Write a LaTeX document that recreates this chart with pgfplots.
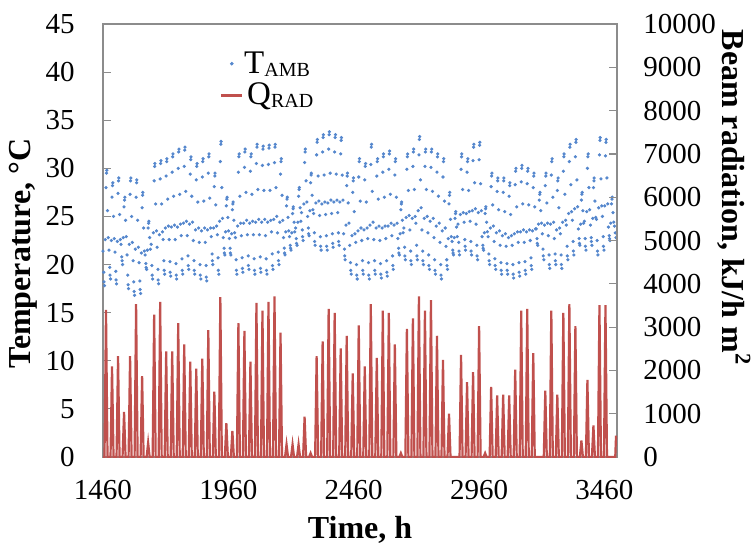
\documentclass[border=0pt]{standalone}
\usepackage{fontspec}
\setmainfont{Liberation Serif}
\usepackage{pgfplots}
\pgfplotsset{compat=1.18}

\definecolor{tblue}{RGB}{85,135,205}
\definecolor{qred}{RGB}{192,80,77}
\definecolor{framegray}{RGB}{140,140,140}

\pgfplotsset{
  base/.style={
    width=257pt, height=216.5pt, scale only axis,
    xmin=1460, xmax=3510,
    axis line style={framegray, line width=0.75pt},
    tick style={framegray, line width=0.6pt},
    major tick length=4pt,
    tick align=inside,
    tick label style={font=\fontsize{14.5}{16}\selectfont, inner sep=0pt},
    /pgf/number format/assume math mode=true,
    /pgf/number format/1000 sep={},
    scaled y ticks=false,
    label style={font=\fontsize{16}{18}\selectfont\bfseries, inner sep=0pt},
  },
  tdots/.style={tblue, only marks, mark=*, mark size=0.6pt, mark options={draw=none, fill=tblue}},
}

\begin{document}
\begin{tikzpicture}
% page frame, same margins as the reference
\path (-51.5pt,-45.5pt) rectangle (324pt,228.5pt);
% temperature, left axis
\begin{axis}[base,
  ymin=0, ymax=45, ytick={0,5,...,45},
  xtick={1460,1960,2460,2960,3460},
  xtick style={draw=none},
  ytick pos=left,
  xticklabel style={yshift=-11.5pt},
  yticklabel style={xshift=-14pt},
  xlabel={Time, h},
  xlabel style={at={(axis description cs:0.5,0)}, anchor=center, yshift=-36.5pt},
  ylabel={Temperature, °C},
  ylabel style={at={(axis description cs:-0.155,0.47)}, anchor=center},
]
\addplot[tdots] coordinates {
(1460,21.4)(1463,19.2)(1466,17.8)(1469,22.6)(1472,28.0)(1475,29.8)(1478,25.6)(1481,22.8)
(1484,21.5)(1487,19.7)(1490,18.5)(1493,22.5)(1496,27.0)(1499,28.5)(1502,25.0)(1505,22.7)
(1508,21.3)(1511,19.3)(1514,18.0)(1517,22.4)(1520,27.4)(1523,29.0)(1526,25.2)(1529,22.6)
(1532,22.1)(1535,20.8)(1538,20.0)(1541,22.8)(1544,26.0)(1547,27.0)(1550,24.6)(1553,22.9)
(1556,21.0)(1559,18.9)(1562,17.5)(1565,22.1)(1568,27.3)(1571,29.0)(1574,25.0)(1577,22.3)
(1580,20.4)(1583,18.2)(1586,16.8)(1589,21.6)(1592,27.0)(1595,28.8)(1598,24.6)(1601,21.8)
(1604,20.2)(1607,18.3)(1610,17.0)(1613,21.2)(1616,25.9)(1619,27.5)(1622,23.8)(1625,21.4)
(1628,21.0)(1631,20.1)(1634,19.5)(1637,21.5)(1640,23.8)(1643,24.5)(1646,22.8)(1649,21.6)
(1652,22.1)(1655,19.9)(1658,18.5)(1661,23.3)(1664,28.7)(1667,30.5)(1670,26.3)(1673,23.5)
(1676,21.8)(1679,19.5)(1682,18.0)(1685,23.1)(1688,28.9)(1691,30.8)(1694,26.3)(1697,23.4)
(1700,22.6)(1703,20.4)(1706,19.0)(1709,23.8)(1712,29.2)(1715,31.0)(1718,26.8)(1721,24.0)
(1724,22.6)(1727,20.3)(1730,18.8)(1733,23.9)(1736,29.6)(1739,31.5)(1742,27.1)(1745,24.1)
(1748,22.6)(1751,20.1)(1754,18.5)(1757,23.9)(1760,30.0)(1763,32.0)(1766,27.3)(1769,24.2)
(1772,23.0)(1775,20.6)(1778,19.0)(1781,24.3)(1784,30.2)(1787,32.2)(1790,27.6)(1793,24.5)
(1796,23.0)(1799,20.9)(1802,19.5)(1805,24.2)(1808,29.4)(1811,31.2)(1814,27.1)(1817,24.4)
(1820,22.5)(1823,20.4)(1826,19.0)(1829,23.6)(1832,28.8)(1835,30.5)(1838,26.5)(1841,23.8)
(1844,22.3)(1847,20.0)(1850,18.5)(1853,23.5)(1856,29.1)(1859,31.0)(1862,26.6)(1865,23.8)
(1868,22.3)(1871,19.9)(1874,18.3)(1877,23.6)(1880,29.5)(1883,31.5)(1886,26.9)(1889,23.8)
(1892,22.9)(1895,21.1)(1898,20.0)(1901,23.8)(1904,28.1)(1907,29.5)(1910,26.2)(1913,24.0)
(1916,23.1)(1919,20.7)(1922,19.0)(1925,24.5)(1928,30.7)(1931,32.8)(1934,28.0)(1937,24.8)
(1940,22.8)(1943,21.7)(1946,21.0)(1949,23.4)(1952,26.1)(1955,27.0)(1958,24.9)(1961,23.5)
(1964,22.7)(1967,21.7)(1970,21.0)(1973,23.2)(1976,25.7)(1979,26.5)(1982,24.6)(1985,23.3)
(1988,22.8)(1991,20.5)(1994,19.0)(1997,24.0)(2000,29.6)(2003,31.5)(2006,27.1)(2009,24.3)
(2012,23.0)(2015,20.7)(2018,19.2)(2021,24.3)(2024,30.1)(2027,32.0)(2030,27.5)(2033,24.6)
(2036,23.1)(2039,20.9)(2042,19.5)(2045,24.3)(2048,29.7)(2051,31.5)(2054,27.3)(2057,24.5)
(2060,23.1)(2063,20.6)(2066,19.0)(2069,24.4)(2072,30.5)(2075,32.5)(2078,27.8)(2081,24.7)
(2084,23.1)(2087,20.8)(2090,19.2)(2093,24.4)(2096,30.3)(2099,32.3)(2102,27.7)(2105,24.7)
(2108,23.0)(2111,20.6)(2114,19.0)(2117,24.4)(2120,30.4)(2123,32.4)(2126,27.7)(2129,24.6)
(2132,23.4)(2135,21.1)(2138,19.5)(2141,24.7)(2144,30.6)(2147,32.5)(2150,28.0)(2153,25.0)
(2156,23.3)(2159,21.3)(2162,20.0)(2165,24.4)(2168,29.4)(2171,31.0)(2174,27.2)(2177,24.6)
(2180,22.8)(2183,21.7)(2186,21.0)(2189,23.4)(2192,26.1)(2195,27.0)(2198,24.9)(2201,23.5)
(2204,22.9)(2207,22.0)(2210,21.5)(2213,23.3)(2216,25.3)(2219,26.0)(2222,24.4)(2225,23.4)
(2228,23.8)(2231,22.7)(2234,22.0)(2237,24.4)(2240,27.1)(2243,28.0)(2246,25.9)(2249,24.5)
(2252,25.4)(2255,23.6)(2258,22.5)(2261,26.3)(2264,30.6)(2267,32.0)(2270,28.7)(2273,26.5)
(2276,25.0)(2279,23.8)(2282,23.0)(2285,25.6)(2288,28.5)(2291,29.5)(2294,27.2)(2297,25.7)
(2300,25.3)(2303,23.3)(2306,22.0)(2309,26.4)(2312,31.4)(2315,33.0)(2318,29.2)(2321,26.6)
(2324,25.1)(2327,22.9)(2330,21.5)(2333,26.3)(2336,31.7)(2339,33.5)(2342,29.3)(2345,26.5)
(2348,25.2)(2351,23.0)(2354,21.5)(2357,26.4)(2360,32.0)(2363,33.8)(2366,29.5)(2369,26.7)
(2372,25.3)(2375,23.2)(2378,21.8)(2381,26.5)(2384,31.7)(2387,33.5)(2390,29.4)(2393,26.7)
(2396,25.4)(2399,23.3)(2402,22.0)(2405,26.5)(2408,31.5)(2411,33.2)(2414,29.3)(2417,26.7)
(2420,23.2)(2423,21.6)(2426,20.5)(2429,24.1)(2432,28.2)(2435,29.5)(2438,26.4)(2441,24.3)
(2444,22.0)(2447,20.2)(2450,19.0)(2453,23.0)(2456,27.5)(2459,29.0)(2462,25.5)(2465,23.2)
(2468,22.3)(2471,20.0)(2474,18.5)(2477,23.5)(2480,29.1)(2483,31.0)(2486,26.6)(2489,23.8)
(2492,22.5)(2495,20.4)(2498,19.0)(2501,23.6)(2504,28.8)(2507,30.5)(2510,26.5)(2513,23.8)
(2516,22.7)(2519,20.2)(2522,18.5)(2525,24.1)(2528,30.4)(2531,32.5)(2534,27.6)(2537,24.4)
(2540,22.6)(2543,20.4)(2546,19.0)(2549,23.8)(2552,29.2)(2555,31.0)(2558,26.8)(2561,24.0)
(2564,22.5)(2567,20.1)(2570,18.6)(2573,23.8)(2576,29.6)(2579,31.5)(2582,27.0)(2585,24.0)
(2588,22.7)(2591,20.4)(2594,18.8)(2597,24.0)(2600,29.9)(2603,31.8)(2606,27.3)(2609,24.3)
(2612,23.0)(2615,20.9)(2618,19.5)(2621,24.1)(2624,29.3)(2627,31.0)(2630,27.0)(2633,24.3)
(2636,22.7)(2639,21.7)(2642,21.0)(2645,23.2)(2648,25.7)(2651,26.5)(2654,24.6)(2657,23.3)
(2660,23.8)(2663,21.8)(2666,20.5)(2669,24.9)(2672,29.9)(2675,31.5)(2678,27.7)(2681,25.1)
(2684,23.6)(2687,21.4)(2690,20.0)(2693,24.8)(2696,30.2)(2699,32.0)(2702,27.8)(2705,25.0)
(2708,24.3)(2711,22.0)(2714,20.5)(2717,25.6)(2720,31.4)(2723,33.3)(2726,28.8)(2729,25.9)
(2732,23.6)(2735,21.4)(2738,20.0)(2741,24.8)(2744,30.2)(2747,32.0)(2750,27.8)(2753,25.0)
(2756,23.3)(2759,21.0)(2762,19.5)(2765,24.5)(2768,30.1)(2771,32.0)(2774,27.6)(2777,24.8)
(2780,22.8)(2783,20.5)(2786,19.0)(2789,24.0)(2792,29.6)(2795,31.5)(2798,27.1)(2801,24.3)
(2804,22.3)(2807,20.0)(2810,18.5)(2813,23.5)(2816,29.1)(2819,31.0)(2822,26.6)(2825,23.8)
(2828,21.9)(2831,20.5)(2834,19.5)(2837,22.7)(2840,26.3)(2843,27.5)(2846,24.7)(2849,22.9)
(2852,22.4)(2855,21.5)(2858,21.0)(2861,22.8)(2864,24.8)(2867,25.5)(2870,23.9)(2873,22.9)
(2876,24.2)(2879,22.3)(2882,21.0)(2885,25.2)(2888,29.9)(2891,31.5)(2894,27.8)(2897,25.4)
(2900,24.4)(2903,22.6)(2906,21.5)(2909,25.3)(2912,29.6)(2915,31.0)(2918,27.7)(2921,25.5)
(2924,24.5)(2927,22.4)(2930,21.0)(2933,25.6)(2936,30.8)(2939,32.5)(2942,28.5)(2945,25.8)
(2948,24.2)(2951,22.0)(2954,20.5)(2957,25.4)(2960,30.9)(2963,32.7)(2966,28.4)(2969,25.6)
(2972,22.9)(2975,22.0)(2978,21.5)(2981,23.3)(2984,25.3)(2987,26.0)(2990,24.4)(2993,23.4)
(2996,22.9)(2999,21.1)(3002,20.0)(3005,23.8)(3008,28.1)(3011,29.5)(3014,26.2)(3017,24.0)
(3020,22.4)(3023,20.6)(3026,19.5)(3029,23.3)(3032,27.6)(3035,29.0)(3038,25.7)(3041,23.5)
(3044,22.0)(3047,20.2)(3050,19.0)(3053,23.0)(3056,27.5)(3059,29.0)(3062,25.5)(3065,23.2)
(3068,21.9)(3071,20.1)(3074,19.0)(3077,22.8)(3080,27.1)(3083,28.5)(3086,25.2)(3089,23.0)
(3092,22.0)(3095,20.0)(3098,18.6)(3101,23.2)(3104,28.3)(3107,30.0)(3110,26.0)(3113,23.4)
(3116,22.3)(3119,20.2)(3122,18.8)(3125,23.4)(3128,28.6)(3131,30.3)(3134,26.3)(3137,23.6)
(3140,22.3)(3143,20.3)(3146,19.0)(3149,23.4)(3152,28.4)(3155,30.0)(3158,26.2)(3161,23.6)
(3164,22.5)(3167,20.7)(3170,19.5)(3173,23.5)(3176,28.0)(3179,29.5)(3182,26.0)(3185,23.7)
(3188,23.7)(3191,22.7)(3194,22.0)(3197,24.2)(3200,26.7)(3203,27.5)(3206,25.6)(3209,24.3)
(3212,23.2)(3215,21.6)(3218,20.5)(3221,24.1)(3224,28.2)(3227,29.5)(3230,26.4)(3233,24.3)
(3236,23.0)(3239,21.0)(3242,19.6)(3245,24.2)(3248,29.3)(3251,31.0)(3254,27.0)(3257,24.4)
(3260,22.7)(3263,21.1)(3266,20.0)(3269,23.6)(3272,27.7)(3275,29.0)(3278,25.9)(3281,23.8)
(3284,23.2)(3287,21.0)(3290,19.6)(3293,24.4)(3296,29.7)(3299,31.5)(3302,27.3)(3305,24.6)
(3308,24.1)(3311,21.9)(3314,20.5)(3317,25.3)(3320,30.7)(3323,32.5)(3326,28.3)(3329,25.5)
(3332,24.6)(3335,22.4)(3338,21.0)(3341,25.8)(3344,31.2)(3347,33.0)(3350,28.8)(3353,26.0)
(3356,23.7)(3359,22.7)(3362,22.0)(3365,24.2)(3368,26.7)(3371,27.5)(3374,25.6)(3377,24.3)
(3380,24.5)(3383,22.7)(3386,21.5)(3389,25.5)(3392,30.0)(3395,31.5)(3398,28.0)(3401,25.7)
(3404,24.1)(3407,22.8)(3410,22.0)(3413,24.8)(3416,28.0)(3419,29.0)(3422,26.6)(3425,24.9)
(3428,24.7)(3431,22.5)(3434,21.0)(3437,25.9)(3440,31.4)(3443,33.2)(3446,28.9)(3449,26.1)
(3452,25.0)(3455,22.9)(3458,21.5)(3461,26.1)(3464,31.3)(3467,33.0)(3470,29.0)(3473,26.3)
(3476,23.9)(3479,23.0)(3482,22.5)(3485,24.3)(3488,26.3)(3491,27.0)(3494,25.4)(3497,24.4)
(3500,24.0)(3503,23.3)(3506,22.8)
};
% extra readings near each day's minimum and maximum
\addplot[tdots] coordinates {
(1464,18.2)(1474,29.5)(1488,18.9)(1498,28.2)(1512,18.4)(1522,28.7)(1536,20.4)(1546,26.7)
(1560,17.9)(1570,28.7)(1584,17.2)(1594,28.5)(1608,17.4)(1618,27.2)(1632,19.7)(1642,24.3)
(1656,18.9)(1666,30.2)(1680,18.4)(1690,30.5)(1704,19.4)(1714,30.7)(1728,19.2)(1738,31.2)
(1752,18.9)(1762,31.7)(1776,19.4)(1786,31.9)(1800,19.9)(1810,30.9)(1824,19.4)(1834,30.2)
(1848,18.9)(1858,30.7)(1872,18.7)(1882,31.2)(1896,20.4)(1906,29.2)(1920,19.4)(1930,32.5)
(1944,21.2)(1954,26.8)(1968,21.2)(1978,26.3)(1992,19.4)(2002,31.2)(2016,19.6)(2026,31.7)
(2040,19.9)(2050,31.2)(2064,19.4)(2074,32.2)(2088,19.6)(2098,32.0)(2112,19.4)(2122,32.1)
(2136,19.9)(2146,32.2)(2160,20.4)(2170,30.7)(2184,21.2)(2194,26.8)(2208,21.7)(2218,25.8)
(2232,22.2)(2242,27.8)(2256,22.9)(2266,31.7)(2280,23.2)(2290,29.3)(2304,22.4)(2314,32.7)
(2328,21.9)(2338,33.2)(2352,21.9)(2362,33.5)(2376,22.2)(2386,33.2)(2400,22.4)(2410,32.9)
(2424,20.9)(2434,29.2)(2448,19.4)(2458,28.7)(2472,18.9)(2482,30.7)(2496,19.4)(2506,30.2)
(2520,18.9)(2530,32.2)(2544,19.4)(2554,30.7)(2568,19.0)(2578,31.2)(2592,19.2)(2602,31.5)
(2616,19.9)(2626,30.7)(2640,21.2)(2650,26.3)(2664,20.9)(2674,31.2)(2688,20.4)(2698,31.7)
(2712,20.9)(2722,33.0)(2736,20.4)(2746,31.7)(2760,19.9)(2770,31.7)(2784,19.4)(2794,31.2)
(2808,18.9)(2818,30.7)(2832,19.9)(2842,27.2)(2856,21.2)(2866,25.3)(2880,21.4)(2890,31.2)
(2904,21.9)(2914,30.7)(2928,21.4)(2938,32.2)(2952,20.9)(2962,32.4)(2976,21.7)(2986,25.8)
(3000,20.4)(3010,29.2)(3024,19.9)(3034,28.7)(3048,19.4)(3058,28.7)(3072,19.4)(3082,28.2)
(3096,19.0)(3106,29.7)(3120,19.2)(3130,30.0)(3144,19.4)(3154,29.7)(3168,19.9)(3178,29.2)
(3192,22.2)(3202,27.3)(3216,20.9)(3226,29.2)(3240,20.0)(3250,30.7)(3264,20.4)(3274,28.7)
(3288,20.0)(3298,31.2)(3312,20.9)(3322,32.2)(3336,21.4)(3346,32.7)(3360,22.2)(3370,27.3)
(3384,21.9)(3394,31.2)(3408,22.4)(3418,28.7)(3432,21.4)(3442,32.9)(3456,21.9)(3466,32.7)
(3480,22.7)(3490,26.8)
};
\end{axis}

% beam radiation, right axis
\begin{axis}[base,
  axis x line=none, axis y line*=right,
  ymin=0, ymax=10000, ytick={0,1000,...,10000},
  yticklabel style={xshift=13pt},
  ylabel={Beam radiation, kJ/h m\textsuperscript{2}},
  ylabel style={rotate=180, at={(axis description cs:1.228,0.599)}, anchor=center},
  legend style={draw=none, fill=none, at={(axis description cs:0,1)}, anchor=north west,
    xshift=58pt, yshift=-13pt, inner sep=0pt, row sep=2.5pt,
    nodes={inner sep=0.5pt}, font=\fontsize{16.5}{18}\selectfont},
  legend cell align=left,
]
\addlegendimage{legend image code/.code={\fill[tblue] (5.5pt,0pt) circle (0.7pt);}}
\addlegendentry{T\raisebox{-1.5pt}{\fontsize{10}{11}\selectfont AMB}}
\addplot[qred, line width=1.1pt, legend image code/.code={\draw[qred, line width=1.4pt] (0pt,0pt) -- (10.5pt,0pt);}] coordinates {
(1460,0)
(1466,0)(1472,3400)(1478,0) (1490,0)(1496,2090)(1502,0) (1514,0)(1520,2330)(1526,0)
(1538,0)(1544,1040)(1550,0) (1562,0)(1568,2330)(1574,0) (1586,0)(1592,3530)(1598,0)
(1610,0)(1616,1870)(1622,0) (1634,0)(1640,330)(1646,0) (1658,0)(1664,3290)(1670,0)
(1682,0)(1688,3580)(1694,0) (1706,0)(1712,2440)(1718,0) (1730,0)(1736,2440)(1742,0)
(1754,0)(1760,3090)(1766,0) (1778,0)(1784,2600)(1790,0) (1802,0)(1808,2200)(1814,0)
(1826,0)(1832,2040)(1838,0) (1850,0)(1856,2270)(1862,0) (1874,0)(1880,2930)(1886,0)
(1898,0)(1904,1510)(1910,0) (1922,0)(1928,3690)(1934,0) (1946,0)(1952,780)(1958,0)
(1970,0)(1976,600)(1982,0) (1994,0)(2000,3090)(2006,0) (2018,0)(2024,2910)(2030,0)
(2042,0)(2048,2200)(2054,0) (2066,0)(2072,3560)(2078,0) (2090,0)(2096,3380)(2102,0)
(2114,0)(2120,3580)(2126,0) (2138,0)(2144,3710)(2150,0) (2162,0)(2168,2870)(2174,0)
(2186,0)(2192,290)(2198,0) (2210,0)(2216,290)(2222,0) (2234,0)(2240,290)(2246,0)
(2258,0)(2264,930)(2270,0) (2282,0)(2288,90)(2294,0) (2306,0)(2312,2330)(2318,0)
(2330,0)(2336,2670)(2342,0) (2354,0)(2360,3420)(2366,0) (2378,0)(2384,3330)(2390,0)
(2402,0)(2408,2510)(2414,0) (2426,0)(2432,2800)(2438,0) (2450,0)(2456,1930)(2462,0)
(2474,0)(2480,3040)(2486,0) (2498,0)(2504,2090)(2510,0) (2522,0)(2528,3530)(2534,0)
(2546,0)(2552,2290)(2558,0) (2570,0)(2576,3380)(2582,0) (2594,0)(2600,3330)(2606,0)
(2618,0)(2624,2600)(2630,0) (2642,0)(2648,90)(2654,0) (2666,0)(2672,2960)(2678,0)
(2690,0)(2696,3200)(2702,0) (2714,0)(2720,3710)(2726,0) (2738,0)(2744,3380)(2750,0)
(2762,0)(2768,3620)(2774,0) (2786,0)(2792,2800)(2798,0) (2810,0)(2816,2240)(2822,0)
(2834,0)(2840,1000)(2846,0) (2882,0)(2888,2360)(2894,0) (2906,0)(2912,1730)(2918,0)
(2930,0)(2936,1960)(2942,0) (2954,0)(2960,3020)(2966,0) (2978,0)(2984,90)(2990,0)
(3002,0)(3008,1620)(3014,0) (3026,0)(3032,1420)(3038,0) (3050,0)(3056,1440)(3062,0)
(3074,0)(3080,1420)(3086,0) (3098,0)(3104,2020)(3110,0) (3122,0)(3128,3380)(3134,0)
(3146,0)(3152,3420)(3158,0) (3170,0)(3176,2400)(3182,0) (3218,0)(3224,1530)(3230,0)
(3242,0)(3248,3380)(3254,0) (3266,0)(3272,1440)(3278,0) (3290,0)(3296,3330)(3302,0)
(3314,0)(3320,3530)(3326,0) (3338,0)(3344,3020)(3350,0) (3362,0)(3368,380)(3374,0)
(3386,0)(3392,1780)(3398,0) (3410,0)(3416,730)(3422,0) (3434,0)(3440,3510)(3446,0)
(3458,0)(3464,3510)(3470,0) (3503,0)(3506,470)(3510,470)
};
\addlegendentry{\hspace{1.5pt}Q\raisebox{-1.5pt}{\fontsize{10}{11}\selectfont RAD}}
\end{axis}
\end{tikzpicture}
\end{document}
